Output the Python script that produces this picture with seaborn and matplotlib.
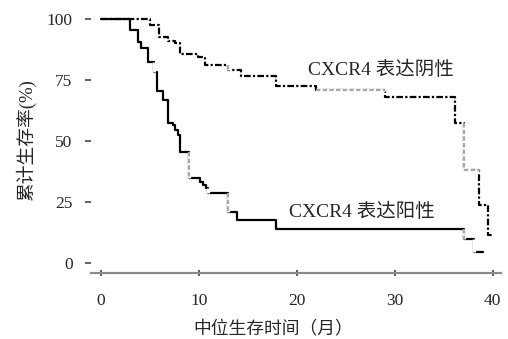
import matplotlib
matplotlib.use("Agg")
import matplotlib.pyplot as plt
import seaborn as sns
import pandas as pd

# ---- data ----
pos_months = [0, 3.0, 3.8, 4.15, 4.8, 5.4, 5.7, 6.3, 6.9, 7.4, 7.55, 7.9, 8.06, 9.0,
              10.1, 10.45, 10.7, 10.95, 13.0, 13.9, 17.9, 37.1, 38.1, 39.0]
pos_surv = [100, 95.5, 90.5, 88, 82.5, 78.4, 70.5, 66.8, 57.2, 56.5, 54.5, 52.5, 45.4, 34.7,
            33.3, 32, 30.6, 28.5, 21, 17.6, 13.8, 9.7, 4.6, 4.6]
neg_months = [0, 5.0, 5.9, 6.9, 7.6, 8.1, 9.9, 10.6, 13.0, 14.3, 17.9, 22.0, 29.0,
              36.1, 37.1, 38.6, 39.5, 40.0]
neg_surv = [100, 97.5, 92.5, 91, 90, 85.5, 84.5, 81, 79, 76.5, 72.5, 71, 68.2,
            57.3, 38.1, 23.8, 11.5, 11.5]
x_ticks = [0, 10, 20, 30, 40]
y_ticks = [0, 25, 50, 75, 100]
label_pos = "CXCR4 表达阳性"
label_neg = "CXCR4 表达阴性"
x_label = "中位生存时间（月）"
y_label = "累计生存率(%)"

# faded / missing pieces of the scanned curves (style only): (step index, kind, tone)
pos_faded = [(5, "v", "none"), (13, "v", "gray"), (17, "v", "none"), (18, "v", "gray"),
             (21, "v", "gray"), (22, "v", "none")]
neg_faded = [(8, "v", "gray"), (11, "h", "gray"), (14, "v", "gray"), (14, "h", "gray")]

sns.set_style("white")
plt.rcParams['font.family'] = ['Liberation Serif', 'Noto Sans CJK SC', 'DejaVu Sans']

fig = plt.figure(figsize=(5.08, 3.39), dpi=100)
ax = fig.add_axes([91/508, 1 - 273/339, 409.6/508, (273 - 14.1)/339])

LW = 1.6
NEG_STYLE = (0, (3, 1, 1, 1))
df_pos = pd.DataFrame({"m": pos_months, "s": pos_surv})
df_neg = pd.DataFrame({"m": neg_months, "s": neg_surv})
sns.lineplot(data=df_pos, x="m", y="s", ax=ax, drawstyle="steps-post",
             color="black", lw=LW, estimator=None, sort=False)
sns.lineplot(data=df_neg, x="m", y="s", ax=ax, drawstyle="steps-post",
             color="black", lw=LW, estimator=None, sort=False, linestyle=NEG_STYLE)


def fade(df, faded):
    for i, kind, tone in faded:
        if kind == "v":
            seg = pd.DataFrame({"m": [df.m[i], df.m[i]], "s": [df.s[i - 1], df.s[i]]})
        else:
            seg = pd.DataFrame({"m": [df.m[i], df.m[i + 1]], "s": [df.s[i], df.s[i]]})
        sns.lineplot(data=seg, x="m", y="s", ax=ax, color="white", lw=LW + 0.8,
                     estimator=None, sort=False, solid_capstyle="butt")
        if tone == "gray":
            sns.lineplot(data=seg, x="m", y="s", ax=ax, color="#a8a8a8", lw=LW,
                         estimator=None, sort=False, linestyle=(0, (2, 1)))


fade(df_pos, pos_faded)
fade(df_neg, neg_faded)

ax.set_xlim(-1, 40.8)
ax.set_ylim(-4.1, 102)
ax.set_xticks(x_ticks)
ax.set_yticks(y_ticks)
for s in ["top", "right", "left"]:
    ax.spines[s].set_visible(False)
ax.spines["bottom"].set_color("#8a8a8a")
ax.spines["bottom"].set_linewidth(1.6)
ax.tick_params(axis="y", direction="out", length=4.3, width=1.3, color="#555555",
               pad=9, labelsize=12.5, left=True)
ax.tick_params(axis="x", direction="inout", length=4, width=1.2, color="#404040",
               pad=12.5, labelsize=12.5, bottom=True)

ax.set_xlabel(x_label, fontsize=12.8)
ax.set_ylabel(y_label, fontsize=13.5)
ax.xaxis.set_label_coords((273 - 91) / 409.6, -0.186)
ax.yaxis.set_label_coords((36 - 91) / 409.6, (273 - 140) / 258.9)

ax.text(21.1, 79, label_neg, fontsize=14, va="center", ha="left")
ax.text(19.2, 21, label_pos, fontsize=14, va="center", ha="left")

fig.savefig("out.png", dpi=100)
